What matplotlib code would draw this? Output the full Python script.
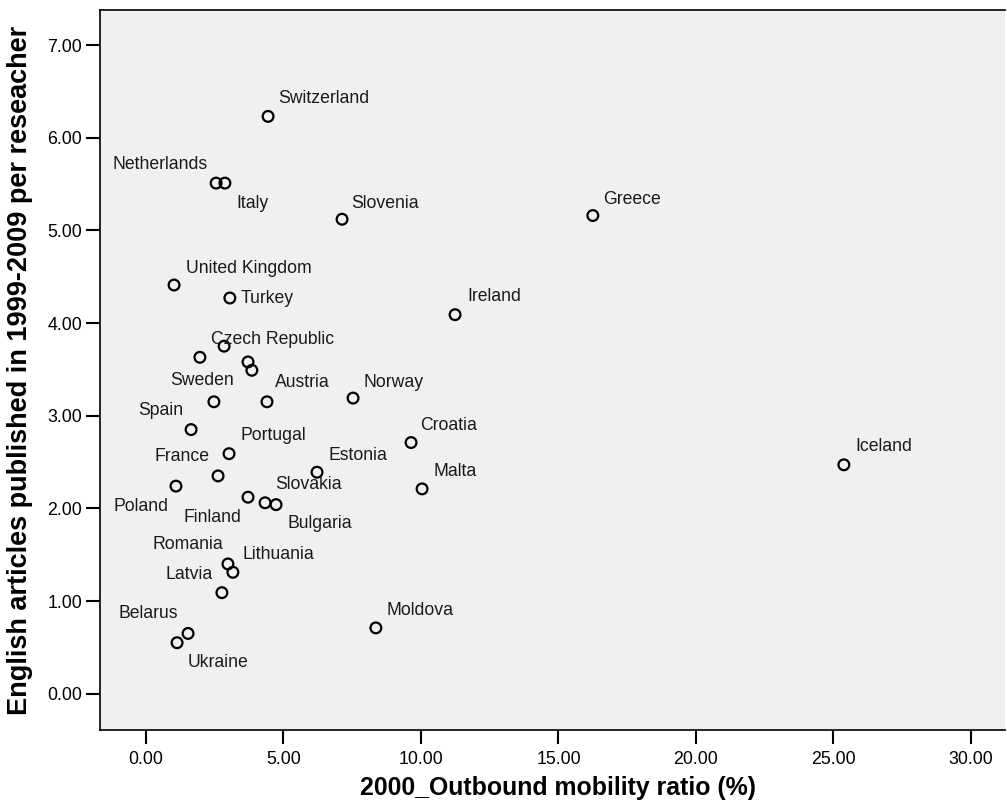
import matplotlib
matplotlib.use("Agg")
import matplotlib.pyplot as plt

# -------------------------
# 1. Data
# -------------------------
countries = ["Switzerland", "Netherlands", "Italy", "Slovenia", "Greece",
             "United Kingdom", "Turkey", "Ireland", "Czech Republic", "", "", "",
             "Sweden", "Austria", "Norway", "Spain", "Portugal", "France",
             "Estonia", "Poland", "Finland", "Slovakia", "Bulgaria", "Romania",
             "Lithuania", "Latvia", "Belarus", "Ukraine", "Moldova", "Croatia",
             "Malta", "Iceland"]
mobility = [4.44, 2.55, 2.87, 7.13, 16.25,
            1.02, 3.05, 11.24, 1.96, 2.84, 3.71, 3.85,
            2.47, 4.40, 7.53, 1.64, 3.02, 2.62,
            6.22, 1.09, 3.71, 4.33, 4.73, 2.98,
            3.16, 2.76, 1.53, 1.13, 8.36, 9.64,
            10.04, 25.38]
articles = [6.23, 5.51, 5.51, 5.12, 5.16,
            4.41, 4.27, 4.09, 3.63, 3.75, 3.58, 3.49,
            3.15, 3.15, 3.19, 2.85, 2.59, 2.35,
            2.39, 2.24, 2.12, 2.06, 2.04, 1.40,
            1.31, 1.09, 0.65, 0.55, 0.71, 2.71,
            2.21, 2.47]

x_ticks = [0, 5, 10, 15, 20, 25, 30]
y_ticks = [0, 1, 2, 3, 4, 5, 6, 7]

# label placement: (dx, dy) in pixels, horizontal alignment
label_pos = {
    "Switzerland": (10, 18, "left"), "Netherlands": (-8, 19, "right"),
    "Italy": (11, -20, "left"), "Slovenia": (9, 16, "left"),
    "Greece": (10, 16, "left"), "United Kingdom": (12, 17, "left"),
    "Turkey": (11, 0, "left"), "Ireland": (12, 18, "left"),
    "Czech Republic": (11, 18, "left"), "Sweden": (-12, 21, "center"),
    "Austria": (8, 19, "left"), "Norway": (10, 16, "left"),
    "Spain": (-8, 19, "right"), "Portugal": (11, 18, "left"),
    "France": (-9, 19, "right"), "Estonia": (11, 17, "left"),
    "Poland": (-7, -20, "right"), "Finland": (-7, -20, "right"),
    "Slovakia": (10, 18, "left"), "Bulgaria": (11, -19, "left"),
    "Romania": (-5, 19, "right"), "Lithuania": (10, 18, "left"),
    "Latvia": (-9, 18, "right"), "Belarus": (-10, 20, "right"),
    "Ukraine": (11, -20, "left"), "Moldova": (11, 17, "left"),
    "Croatia": (9, 17, "left"), "Malta": (11, 17, "left"),
    "Iceland": (12, 18, "left"),
}

# -------------------------
# 2. Plot
# -------------------------
plt.rcParams['font.family'] = ['Liberation Sans', 'DejaVu Sans']

fig = plt.figure(figsize=(10.07, 8.07), dpi=100)
ax = fig.add_axes([100 / 1007, 77 / 807, 905 / 1007, 720 / 807])
ax.set_facecolor("#f0f0f0")

ax.scatter(mobility, articles, s=60, facecolors="none", edgecolors="black",
           linewidths=1.6, zorder=3)

for name, xv, yv in zip(countries, mobility, articles):
    if not name:
        continue
    dx, dy, ha = label_pos[name]
    ax.annotate(name, (xv, yv), xytext=(dx, dy), textcoords="offset pixels",
                ha=ha, va="center", fontsize=12.7, color="#1a1a1a")

ax.set_xlim(-1.673, 31.24)
ax.set_ylim(-0.392, 7.378)
ax.set_xticks(x_ticks)
ax.set_yticks(y_ticks)
ax.set_xticklabels([f"{v:.2f}" for v in x_ticks])
ax.set_yticklabels([f"{v:.2f}" for v in y_ticks])
ax.tick_params(axis="both", direction="out", length=10, width=1.5,
               labelsize=12.8, colors="black")
ax.tick_params(axis="x", pad=5)
ax.tick_params(axis="y", pad=3)

for side in ["left", "bottom", "top"]:
    ax.spines[side].set_linewidth(1.2)
ax.spines["right"].set_visible(False)

ax.set_xlabel("2000_Outbound mobility ratio (%)", fontsize=17.9,
              fontweight="bold")
ax.xaxis.set_label_coords(0.506, -0.064)
ax.set_ylabel("English articles published in 1999-2009 per reseacher",
              fontsize=19.5, fontweight="bold")
ax.yaxis.set_label_coords(-0.074, 0.5)

fig.savefig("out.png", dpi=100)
